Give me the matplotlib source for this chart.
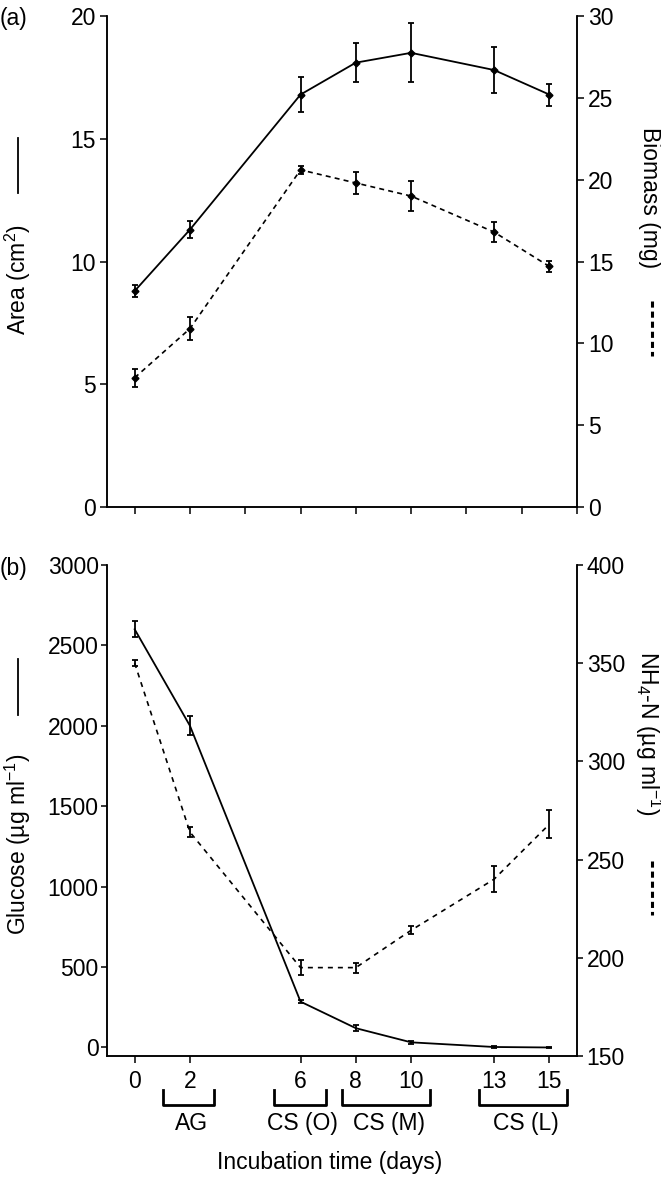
import matplotlib
matplotlib.use("Agg")
import matplotlib.pyplot as plt
from matplotlib.lines import Line2D
import numpy as np

plt.rcParams["font.family"] = ["Liberation Sans", "DejaVu Sans"]
plt.rcParams["mathtext.fontset"] = "custom"
plt.rcParams["mathtext.rm"] = "Liberation Sans"
plt.rcParams["mathtext.it"] = "Liberation Sans:italic"
plt.rcParams["font.size"] = 16.5
plt.rcParams["axes.linewidth"] = 1.1

FS = 16.5

days = [0, 2, 6, 8, 10, 13, 15]

# panel (a)
area = [8.8, 11.3, 16.8, 18.1, 18.5, 17.8, 16.8]
area_err = [0.25, 0.35, 0.7, 0.8, 1.2, 0.95, 0.45]
biomass = [7.9, 10.9, 20.6, 19.8, 19.0, 16.8, 14.7]
biomass_err = [0.55, 0.7, 0.25, 0.65, 0.9, 0.63, 0.33]

# panel (b)
glucose = [2600, 2000, 285, 120, 32, 3, 0]
glucose_err = [50, 60, 10, 20, 10, 4, 4]
nh4 = [350, 264, 195, 195, 214, 240, 268]
nh4_err = [1.5, 2.5, 4, 2.5, 2, 6.5, 7]

# growth stages under the time axis
group_names = ["AG", "CS (O)", "CS (M)", "CS (L)"]
group_start = [1.03, 5.03, 7.49, 12.46]
group_end = [2.88, 6.92, 10.68, 15.65]

fig = plt.figure(figsize=(6.61, 11.77), dpi=100)
ax_a = fig.add_axes([0.1619, 0.5692, 0.711, 0.4172])
ax_b = fig.add_axes([0.1619, 0.1028, 0.711, 0.4172])
ax_a2 = ax_a.twinx()
ax_b2 = ax_b.twinx()

err_kw = dict(color="black", elinewidth=1.3, capsize=2.5, capthick=1.3)

# --- (a) area / biomass ---
ax_a.errorbar(days, area, yerr=area_err, marker="D", markersize=3.5,
              lw=1.3, ls="-", **err_kw)
ax_a2.errorbar(days, biomass, yerr=biomass_err, marker="D", markersize=3.5,
               lw=1.2, ls=(0, (3, 2.5)), **err_kw)

ax_a.set_xlim(-1, 16)
ax_a.set_ylim(0, 20)
ax_a2.set_ylim(0, 30)
ax_a.set_xticks(np.arange(0, 17, 2))
ax_a.set_xticklabels([])
ax_a.set_yticks([0, 5, 10, 15, 20])
ax_a2.set_yticks([0, 5, 10, 15, 20, 25, 30])

# --- (b) glucose / NH4-N ---
ax_b.errorbar(days, glucose, yerr=glucose_err, lw=1.3, ls="-", **err_kw)
ax_b2.errorbar(days, nh4, yerr=nh4_err, lw=1.2, ls=(0, (3, 3)), **err_kw)

ax_b.set_xlim(-1, 16)
ax_b.set_ylim(-53, 3000)
ax_b2.set_ylim(150, 400)
ax_b.set_xticks(days)
ax_b.set_xticklabels([str(d) for d in days])
ax_b.set_yticks(np.arange(0, 3001, 500))
ax_b2.set_yticks(np.arange(150, 401, 50))

for ax in (ax_a, ax_a2, ax_b, ax_b2):
    ax.spines["top"].set_visible(False)
    ax.tick_params(direction="out", width=1.1, labelsize=FS)

ax_a.tick_params(length=5, pad=3)
ax_a2.tick_params(length=5, pad=3)
ax_b.tick_params(axis="y", length=4, pad=2)
ax_b.tick_params(axis="x", length=5, pad=5)
ax_b2.tick_params(length=4, pad=3)

# brackets for growth stages
trans = ax_b.get_xaxis_transform()
for name, s, e in zip(group_names, group_start, group_end):
    ax_b.plot([s, s, e, e], [-0.069, -0.0998, -0.0998, -0.069],
              transform=trans, color="black", lw=2, clip_on=False)
    ax_b.text((s + e) / 2 + 0.1, -0.137, name, transform=trans,
              ha="center", va="center", fontsize=FS)

fig.text(0.498, 0.012, "Incubation time (days)", ha="center", va="center",
         fontsize=FS)

# axis titles with line-style keys
fig.text(0.0272, 0.7621, "Area (cm$^2$)", rotation=90, ha="center",
         va="center", fontsize=FS)
fig.text(0.982, 0.8318, "Biomass (mg)", rotation=270, ha="center",
         va="center", fontsize=FS)
fig.text(0.0272, 0.2829, "Glucose (µg ml$^{-1}$)", rotation=90, ha="center",
         va="center", fontsize=FS)
fig.text(0.980, 0.3772, "NH$_4$-N (µg ml$^{-1}$)", rotation=270,
         ha="center", va="center", fontsize=FS)

fig.add_artist(Line2D([0.0272, 0.0272], [0.8828, 0.836], color="black", lw=1.3))
fig.add_artist(Line2D([0.9864, 0.9864], [0.7443, 0.6975], color="black",
                      lw=2.2, ls=(0, (2, 1.3))))
fig.add_artist(Line2D([0.0272, 0.0272], [0.4401, 0.3925], color="black", lw=1.3))
fig.add_artist(Line2D([0.9864, 0.9864], [0.2685, 0.2226], color="black",
                      lw=2.2, ls=(0, (2, 1.3))))

fig.text(0.0, 0.9847, "(a)", ha="left", va="center", fontsize=FS)
fig.text(0.0, 0.5174, "(b)", ha="left", va="center", fontsize=FS)

fig.savefig("out.png", dpi=100)
